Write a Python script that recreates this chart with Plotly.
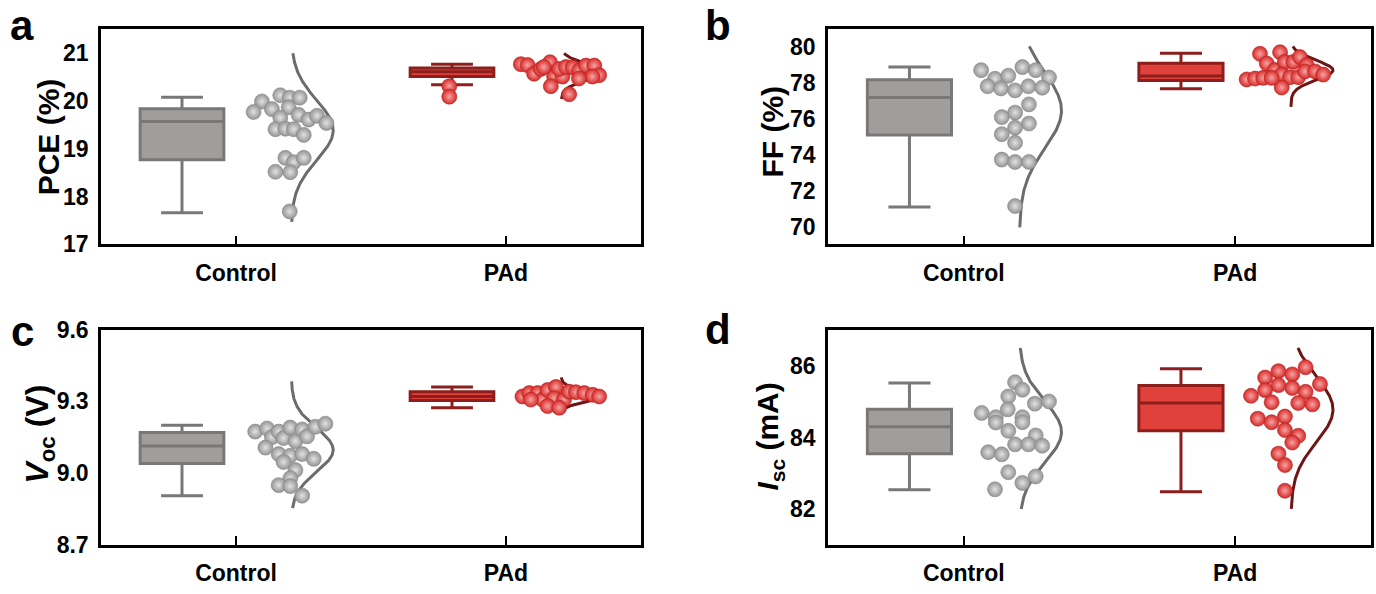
import plotly.graph_objects as go
import numpy as np

categories = ["Control", "PAd"]

# ---------------- data ----------------
# Panel a : PCE (%)
pce_ctrl = [19.99, 19.77, 19.83, 20.12, 20.07, 20.07, 19.87, 19.65, 19.71, 19.61, 19.69,
            19.54, 19.41, 19.42, 19.41, 19.29, 18.81, 18.72, 18.81, 18.52, 18.51, 17.69]
pce_ctrl_dx = [0.096, 0.065, 0.133, 0.164, 0.199, 0.236, 0.195, 0.164, 0.232, 0.269, 0.300,
               0.335, 0.146, 0.183, 0.214, 0.251, 0.183, 0.214, 0.251, 0.146, 0.201, 0.199]
pce_pad = [20.77, 20.75, 20.57, 20.67, 20.81, 20.51, 20.51, 20.31, 20.67, 20.71, 20.70,
           20.64, 20.74, 20.74, 20.54, 20.51, 20.14, 20.71, 20.47]
pce_pad_dx = [0.055, 0.080, 0.104, 0.129, 0.163, 0.178, 0.209, 0.166, 0.197, 0.222, 0.247,
              0.271, 0.296, 0.327, 0.345, 0.320, 0.234, 0.140, 0.270]
pce_pad_outliers = [20.31, 20.09]
pce_box = {"Control": [17.66, 18.77, 19.57, 19.84, 20.08], "PAd": [20.34, 20.51, 20.61, 20.69, 20.77]}
pce_curve_span = {"Control": [17.47, 21.0], "PAd": [20.04, 21.0]}

# Panel b : FF (%)
ff_ctrl = [78.72, 78.24, 78.41, 78.89, 78.72, 78.31, 77.82, 77.70, 77.59, 77.82, 77.74,
           76.81, 76.35, 76.10, 75.74, 75.51, 75.15, 74.67, 73.73, 73.60, 73.60, 71.14]
ff_ctrl_dx = [0.064, 0.115, 0.164, 0.216, 0.265, 0.314, 0.088, 0.137, 0.189, 0.238, 0.289,
              0.240, 0.189, 0.140, 0.240, 0.189, 0.140, 0.189, 0.140, 0.189, 0.240, 0.189]
ff_pad = [78.20, 78.25, 78.29, 79.63, 79.09, 78.73, 79.72, 79.18, 79.18, 78.47, 78.33,
          78.33, 77.75, 79.45, 79.00, 78.65, 78.65, 78.47, 78.29]
ff_pad_dx = [0.042, 0.073, 0.103, 0.091, 0.116, 0.146, 0.165, 0.183, 0.214, 0.171, 0.202,
             0.232, 0.171, 0.238, 0.263, 0.257, 0.294, 0.324, 0.134]
ff_box = {"Control": [71.09, 75.10, 77.20, 78.18, 78.89], "PAd": [77.68, 78.14, 78.40, 79.11, 79.66]}
ff_curve_span = {"Control": [69.95, 80.05], "PAd": [76.67, 80.05]}

# Panel c : Voc (V)
voc_ctrl = [9.173, 9.186, 9.150, 9.173, 9.146, 9.190, 9.133, 9.182, 9.153, 9.193, 9.206,
            9.106, 9.079, 9.072, 9.046, 9.079, 9.059, 9.012, 8.978, 8.949, 8.945, 8.905]
voc_ctrl_dx = [0.071, 0.115, 0.133, 0.158, 0.176, 0.201, 0.220, 0.245, 0.263, 0.294, 0.331,
               0.109, 0.158, 0.201, 0.176, 0.245, 0.288, 0.220, 0.201, 0.158, 0.201, 0.245]
voc_pad = [9.320, 9.334, 9.334, 9.307, 9.347, 9.360, 9.313, 9.280, 9.307, 9.340, 9.338,
           9.334, 9.327, 9.320, 9.273, 9.307]
voc_pad_dx = [0.061, 0.086, 0.117, 0.135, 0.154, 0.185, 0.178, 0.154, 0.215, 0.234, 0.259,
              0.290, 0.321, 0.345, 0.197, 0.092]
voc_box = {"Control": [8.905, 9.039, 9.113, 9.169, 9.199], "PAd": [9.273, 9.303, 9.320, 9.340, 9.360]}
voc_curve_span = {"Control": [8.853, 9.383], "PAd": [9.246, 9.40]}

# Panel d : Isc (mA)
isc_ctrl = [85.55, 85.34, 85.15, 84.95, 85.01, 84.79, 84.69, 84.57, 84.42, 84.57, 84.43,
            84.19, 84.06, 83.81, 83.81, 83.77, 83.59, 83.53, 83.03, 82.91, 82.73, 82.55]
isc_ctrl_dx = [0.189, 0.216, 0.164, 0.262, 0.314, 0.162, 0.066, 0.118, 0.118, 0.216, 0.216,
               0.164, 0.265, 0.189, 0.238, 0.289, 0.090, 0.140, 0.164, 0.265, 0.216, 0.115]
isc_pad = [85.97, 85.86, 85.68, 85.77, 85.50, 85.47, 85.33, 85.39, 85.28, 85.17, 84.99,
           84.97, 84.93, 84.53, 84.43, 84.59, 84.21, 84.05, 83.86, 83.55, 83.23, 82.51]
isc_pad_dx = [0.259, 0.159, 0.110, 0.210, 0.312, 0.159, 0.110, 0.210, 0.259, 0.058, 0.134,
              0.232, 0.284, 0.083, 0.134, 0.183, 0.183, 0.232, 0.210, 0.159, 0.183, 0.183]
isc_box = {"Control": [82.54, 83.55, 84.30, 84.79, 85.53], "PAd": [82.48, 84.19, 84.97, 85.46, 85.93]}
isc_curve_span = {"Control": [82.0, 86.51], "PAd": [82.0, 86.51]}

# tick labels / ranges
pce_ticks = [17, 18, 19, 20, 21]
ff_ticks = [70, 72, 74, 76, 78, 80]
voc_ticks = [8.7, 9.0, 9.3, 9.6]
isc_ticks = [82, 84, 86]

# ---------------- styling ----------------
W, H = 1376, 594
FONT = "Liberation Sans, Arial, sans-serif"
STYLE = {
    "Control": dict(fill="#a09e9c", line="#7a7877", curve="#6c6c6c",
                    dot="#959595", dot_hi="#e2e2e2", dot_edge="#878787"),
    "PAd": dict(fill="#e1413b", line="#8c1f1d", curve="#6e1616",
                dot="#d52a27", dot_hi="#f7a3a3", dot_edge="#b82020"),
}

fig = go.Figure()

panels = [
    ("", pce_ctrl, pce_ctrl_dx, pce_pad, pce_pad_dx, pce_box, pce_curve_span, [17, 21.5], pce_ticks, "d",
     "<b>PCE (%)</b>", 30, (48, 130), "a", (22, 13), (101, 641), (17, 242)),
    ("2", ff_ctrl, ff_ctrl_dx, ff_pad, ff_pad_dx, ff_box, ff_curve_span, [69, 81], ff_ticks, "d",
     "<b>FF (%)</b>", 30, (773, 124), "b", (718, 13), (828, 1371), (17, 242)),
    ("3", voc_ctrl, voc_ctrl_dx, voc_pad, voc_pad_dx, voc_box, voc_curve_span, [8.6999, 9.6001], voc_ticks, ".1f",
     "<b><i>V</i><sub>oc</sub> (V)</b>", 32, (40, 441), "c", (22, 333), (101, 641), (331, 556)),
    ("4", isc_ctrl, isc_ctrl_dx, isc_pad, isc_pad_dx, isc_box, isc_curve_span, [81, 87], isc_ticks, "d",
     "<b><i>I</i><sub>sc</sub> (mA)</b>", 30, (770, 443), "d", (718, 331), (828, 1371), (332, 556)),
]

BOX_OFF = -0.2
CURVE_OFF = 0.205
CURVE_AMP = 0.155

annotations = []
for (sfx, ctrl, ctrl_dx, pad, pad_dx, box, span, yr, ticks, fmt, title, tsize, txy, letter, lxy, xdom, ydom) in panels:
    xa = "x" + sfx
    ya = "y" + sfx
    groups = [("Control", 1, ctrl, ctrl_dx), ("PAd", 2, pad, pad_dx)]
    for name, cx, vals, dx in groups:
        st = STYLE[name]
        lf, q1, med, q3, uf = box[name]
        fig.add_trace(go.Box(
            x=[cx + BOX_OFF], lowerfence=[lf], q1=[q1], median=[med], q3=[q3], upperfence=[uf],
            width=0.31, whiskerwidth=0.5, fillcolor=st["fill"],
            line=dict(color=st["line"], width=3), boxpoints=False,
            xaxis=xa, yaxis=ya, showlegend=False, hoverinfo="skip"))
        # normal distribution curve from the points
        mu = float(np.mean(vals))
        sd = float(np.std(vals, ddof=1))
        yy = np.linspace(span[name][0], span[name][1], 200)
        xx = cx + CURVE_OFF + CURVE_AMP * np.exp(-0.5 * ((yy - mu) / sd) ** 2)
        fig.add_trace(go.Scatter(
            x=xx, y=yy, mode="lines", line=dict(color=st["curve"], width=3),
            xaxis=xa, yaxis=ya, showlegend=False, hoverinfo="skip"))
        # dots
        fig.add_trace(go.Scatter(
            x=[cx + d for d in dx], y=vals, mode="markers",
            marker=dict(size=15, color=st["dot"],
                        gradient=dict(type="radial", color=st["dot_hi"]),
                        line=dict(color=st["dot_edge"], width=0.6)),
            xaxis=xa, yaxis=ya, showlegend=False, hoverinfo="skip"))
    if sfx == "":
        st = STYLE["PAd"]
        fig.add_trace(go.Scatter(
            x=[2 + BOX_OFF - 0.01] * len(pce_pad_outliers), y=pce_pad_outliers, mode="markers",
            marker=dict(size=15, color=st["dot"],
                        gradient=dict(type="radial", color=st["dot_hi"]),
                        line=dict(color=st["dot_edge"], width=0.6)),
            xaxis=xa, yaxis=ya, showlegend=False, hoverinfo="skip"))

    xkey = "xaxis" + sfx
    ykey = "yaxis" + sfx
    fig.layout[xkey] = dict(
        domain=[xdom[0] / W, xdom[1] / W], anchor=ya, range=[0.5, 2.5],
        tickvals=[1, 2], ticktext=categories, ticks="inside", ticklen=9, tickwidth=2,
        tickcolor="black", showline=True, linecolor="black", linewidth=2.5, mirror=True,
        showgrid=False, zeroline=False, ticklabelstandoff=6,
        tickfont=dict(family=FONT, size=23, color="black", weight="bold"))
    fig.layout[ykey] = dict(
        domain=[1 - ydom[1] / H, 1 - ydom[0] / H], anchor=xa, range=yr,
        tickvals=ticks, tickformat=fmt, ticks="", showline=True, linecolor="black",
        linewidth=2.5, mirror=True, showgrid=False, zeroline=False, ticklabelstandoff=5,
        tickfont=dict(family=FONT, size=23, color="black", weight="bold"))
    annotations.append(dict(
        text=title, x=txy[0] / W, y=1 - txy[1] / H, xref="paper", yref="paper",
        textangle=-90, showarrow=False, xanchor="center", yanchor="middle",
        font=dict(family=FONT, size=tsize, color="black", weight="bold")))
    annotations.append(dict(
        text="<b>" + letter + "</b>", x=lxy[0] / W, y=1 - lxy[1] / H, xref="paper", yref="paper",
        showarrow=False, xanchor="center", yanchor="middle",
        font=dict(family=FONT, size=42, color="black", weight="bold")))

fig.update_layout(
    width=W, height=H, margin=dict(l=0, r=0, t=0, b=0),
    paper_bgcolor="white", plot_bgcolor="white",
    annotations=annotations, showlegend=False,
)

fig.write_html("out.html")
